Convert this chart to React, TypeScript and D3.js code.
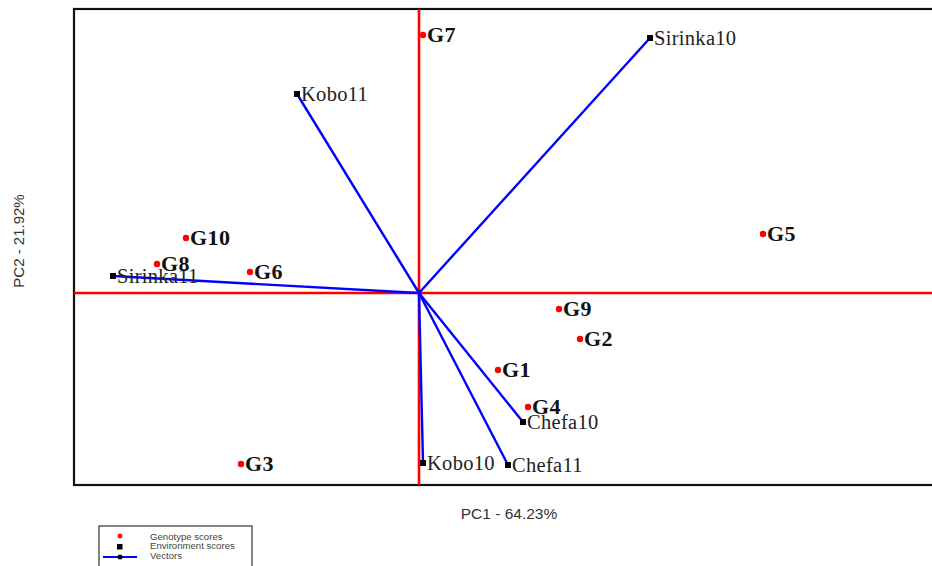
import React from "react";
import * as d3 from "d3";

const genotypes = ["G1", "G2", "G3", "G4", "G5", "G6", "G7", "G8", "G9", "G10"];
const genoPC1 = [0.79, 1.61, -1.78, 1.09, 3.44, -1.69, 0.04, -2.62, 1.40, -2.33];
const genoPC2 = [-0.77, -0.46, -1.71, -1.14, 0.59, 0.21, 2.58, 0.29, -0.16, 0.55];

const environments = ["Sirinka10", "Kobo11", "Sirinka11", "Chefa10", "Chefa11", "Kobo10"];
const envPC1 = [2.31, -1.22, -3.06, 1.04, 0.89, 0.04];
const envPC2 = [2.55, 1.99, 0.17, -1.29, -1.72, -1.70];

const xLabel = "PC1 - 64.23%";
const yLabel = "PC2 - 21.92%";
const legendItems = ["Genotype scores", "Environment scores", "Vectors"];

export default function App() {
  const W = 932, H = 566;
  const left = 74, right = 944, top = 9, bottom = 485;
  const x = d3.scaleLinear().domain([-3.45, 5.25]).range([left, right]);
  const y = d3.scaleLinear().domain([-1.92, 2.84]).range([bottom, top]);
  const serif = "'Liberation Serif', 'Times New Roman', serif";
  const sans = "'Liberation Sans', Arial, sans-serif";
  return (
    <svg width={W} height={H} style={{ position: "fixed", left: 0, top: 0, background: "#fff" }}>
      <rect x={left} y={top} width={right - left} height={bottom - top} fill="none" stroke="#111" strokeWidth={2.2} />
      {/* axes through origin */}
      <line x1={x(0)} x2={x(0)} y1={top} y2={bottom} stroke="#ff0000" strokeWidth={2.6} />
      <line x1={left} x2={right} y1={y(0)} y2={y(0)} stroke="#ff0000" strokeWidth={2.6} />
      {/* vectors */}
      {environments.map((e, i) => (
        <line key={"v" + e} x1={x(0)} y1={y(0)} x2={x(envPC1[i])} y2={y(envPC2[i])} stroke="#0000ff" strokeWidth={2.4} />
      ))}
      {environments.map((e, i) => (
        <g key={"e" + e}>
          <rect x={x(envPC1[i]) - 3} y={y(envPC2[i]) - 3} width={6} height={6} fill="#000" />
          <text x={x(envPC1[i]) + 4} y={y(envPC2[i]) + 7} fontFamily={serif} fontSize={20.5} letterSpacing={0.3} fill="#222">{e}</text>
        </g>
      ))}
      {genotypes.map((g, i) => (
        <g key={"g" + g}>
          <circle cx={x(genoPC1[i])} cy={y(genoPC2[i])} r={3.2} fill="#ff0000" />
          <text x={x(genoPC1[i]) + 4} y={y(genoPC2[i]) + 7} fontFamily={serif} fontWeight="bold" fontSize={22} letterSpacing={0.5} fill="#111">{g}</text>
        </g>
      ))}
      <text x={(left + right) / 2} y={519} textAnchor="middle" fontFamily={sans} fontSize={15.5} fill="#333">{xLabel}</text>
      <text transform={`translate(24, ${(top + bottom) / 2 - 6}) rotate(-90)`} textAnchor="middle" fontFamily={sans} fontSize={15} fill="#333">{yLabel}</text>
      {/* legend */}
      <rect x={99} y={526} width={153} height={50} fill="#fff" stroke="#333" strokeWidth={1.2} />
      <circle cx={120} cy={536} r={2.5} fill="#ff0000" />
      <rect x={117} y={544} width={5.5} height={5.5} fill="#000" />
      <line x1={103} x2={137} y1={557} y2={557} stroke="#0000ff" strokeWidth={2.2} />
      <circle cx={120} cy={557} r={2.5} fill="#000" />
      {legendItems.map((t, i) => (
        <text key={t} x={150} y={539.5 + i * 9.8} fontFamily={sans} fontSize={9.6} fill="#444">{t}</text>
      ))}
    </svg>
  );
}
